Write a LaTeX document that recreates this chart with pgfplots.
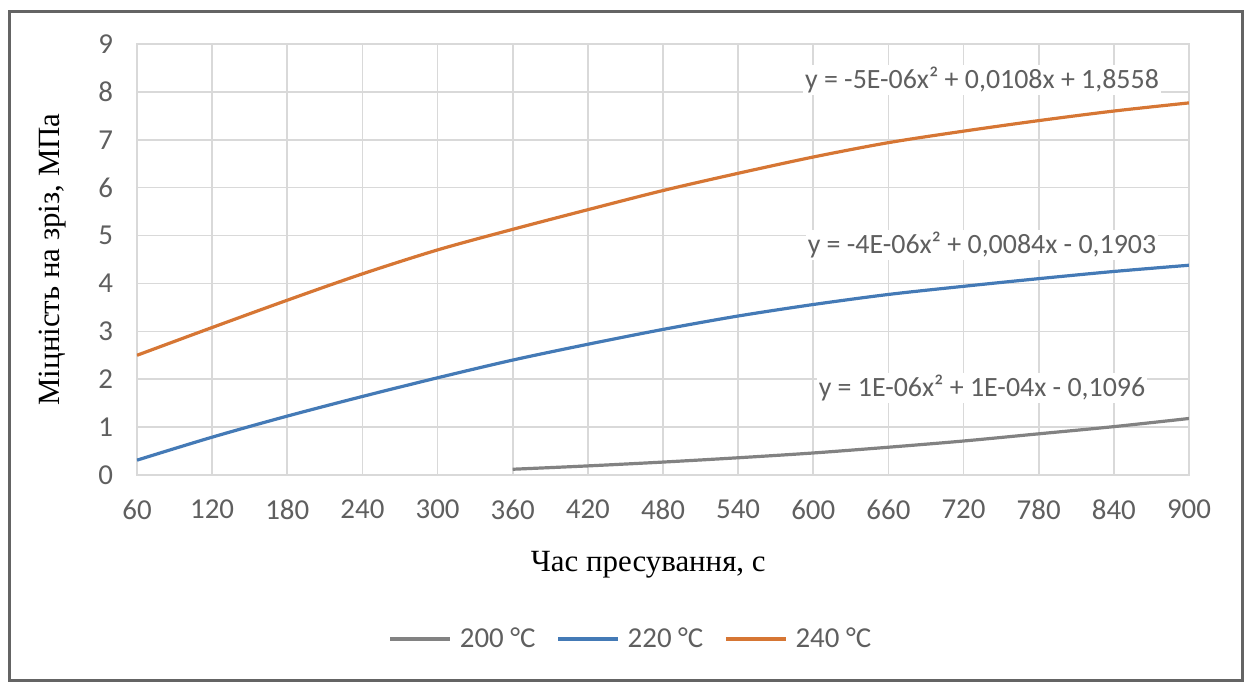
\documentclass[border=0pt]{standalone}
\usepackage{fontspec}
\setmainfont{Liberation Serif}
\newfontfamily\carlito{Carlito}
\usepackage{pgfplots}
\pgfplotsset{compat=1.18}
\definecolor{cOrange}{RGB}{214,118,52}
\definecolor{cBlue}{RGB}{68,122,182}
\definecolor{cGray}{RGB}{130,130,130}
\definecolor{cGrid}{RGB}{217,217,217}
\definecolor{cText}{RGB}{95,95,95}
\definecolor{cFrame}{RGB}{100,100,100}
\begin{document}
\begin{tikzpicture}
\begin{axis}[
  scale only axis,
  width=526bp, height=215.5bp,
  xmin=60, xmax=900, ymin=0, ymax=9,
  xtick={60,120,...,900}, ytick={0,1,...,9},
  grid=major,
  grid style={cGrid, line width=0.8bp},
  axis line style={cGrid, line width=0.8bp},
  major tick length=0pt,
  tick style={draw=none},
  /pgf/number format/assume math mode=true,
  ticklabel style={font=\carlito\fontsize{14.5}{16}\selectfont, text=cText},
  yticklabel style={xshift=-8.5bp},
  xticklabel style={yshift=-9bp},
  xlabel={Час пресування, с},
  ylabel={Міцність на зріз, МПа},
  label style={font=\fontsize{15.5}{18}\selectfont, text=black},
  xlabel style={at={(axis description cs:0.486,-0.2088)}, anchor=center},
  ylabel style={at={(axis description cs:-0.0798,0.5)}, anchor=center},
  legend columns=3,
  legend style={at={(axis description cs:0.4705,-0.3805)}, anchor=center, draw=none, fill=none,
    font=\carlito\fontsize{14.5}{16}\selectfont, text=cText,
    /tikz/every even column/.append style={column sep=8.5bp},
    /tikz/every odd column/.append style={column sep=2bp}},
  legend image code/.code={\draw[#1] (0bp,0bp) -- (30bp,0bp);},
]
\addplot[cGray, line width=1.6bp, smooth] coordinates {
  (360,0.12) (420,0.19) (480,0.27) (540,0.36) (600,0.46) (660,0.58)
  (720,0.71) (780,0.86) (840,1.01) (900,1.18)};
\addlegendentry{200 °C}
\addplot[cBlue, line width=1.6bp, smooth] coordinates {
  (60,0.31) (120,0.79) (180,1.23) (240,1.64) (300,2.03) (360,2.40) (420,2.73)
  (480,3.04) (540,3.32) (600,3.56) (660,3.77) (720,3.94) (780,4.10) (840,4.25) (900,4.38)};
\addlegendentry{220 °C}
\addplot[cOrange, line width=1.6bp, smooth] coordinates {
  (60,2.50) (120,3.08) (180,3.65) (240,4.20) (300,4.70) (360,5.13) (420,5.54)
  (480,5.94) (540,6.30) (600,6.64) (660,6.94) (720,7.18) (780,7.40) (840,7.60) (900,7.77)};
\addlegendentry{240 °C}
\node[font=\carlito\fontsize{14}{16}\selectfont, text=cText, fill=white, inner sep=1bp] at (axis cs:734.7,8.25) {y = -5E-06x² + 0,0108x + 1,8558};
\node[font=\carlito\fontsize{14}{16}\selectfont, text=cText, fill=white, inner sep=1bp] at (axis cs:734.7,4.80) {y = -4E-06x² + 0,0084x - 0,1903};
\node[font=\carlito\fontsize{14}{16}\selectfont, text=cText, fill=white, inner sep=1bp] at (axis cs:734.7,1.82) {y = 1E-06x² + 1E-04x - 0,1096};
\end{axis}
\draw[cFrame, line width=1.5bp] (-63.5bp,-102.5bp) rectangle (552.5bp,231.5bp);
\pgfresetboundingbox
\path[use as bounding box] (-68.5bp,-103.5bp) rectangle (555bp,237.5bp);
\end{tikzpicture}
\end{document}
